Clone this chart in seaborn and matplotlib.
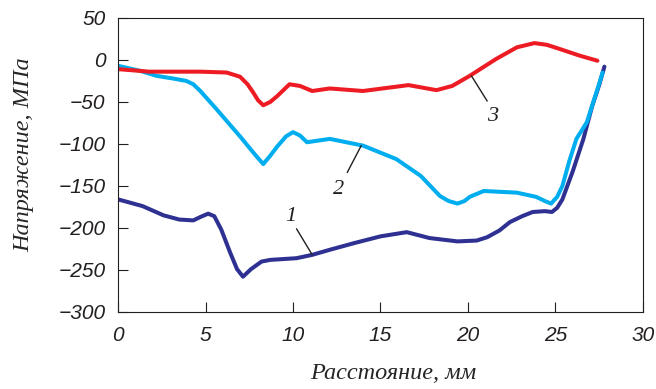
import numpy as np
import pandas as pd
import matplotlib.pyplot as plt
import seaborn as sns

# кривая 1
x1 = [0, 1.4, 2.6, 3.5, 4.3, 4.7, 5.15, 5.5, 5.9, 6.4, 6.8, 7.14, 7.6, 8.2, 8.7, 10.2, 11.1, 12.1, 13.5, 15, 16.5, 17.8, 19.4, 20.5, 21.1, 21.8, 22.4, 23.1, 23.7, 24.4, 24.8, 25.1, 25.4, 26.0, 26.6, 27.1, 27.5, 27.8]
y1 = [-166, -174, -185, -190, -191, -187, -183, -186, -202, -229, -249, -258, -249, -240, -238, -236, -232, -226, -218, -210, -205, -212, -216, -215, -211, -203, -193, -186, -181, -180, -181, -176, -166, -132, -94, -55, -30, -8]
# кривая 2
x2 = [0, 1.26, 2.2, 3.1, 3.9, 4.3, 4.7, 5.6, 6.97, 7.8, 8.3, 8.7, 9.1, 9.6, 10, 10.4, 10.8, 12.1, 14, 15.9, 17.3, 18.4, 18.9, 19.4, 19.8, 20.1, 20.9, 22.8, 23.9, 24.4, 24.75, 25.1, 25.4, 25.8, 26.2, 26.8, 27.4, 27.7]
y2 = [-7, -13, -19, -22, -25, -29, -37, -58, -91, -112, -124, -114, -103, -91, -86, -90, -98, -94, -102, -118, -138, -162, -168, -171, -168, -163, -156, -158, -163, -168, -171, -163, -150, -120, -94, -74, -35, -15]
# кривая 3
x3 = [0, 1.8, 4.7, 6.2, 6.97, 7.4, 7.7, 8.0, 8.3, 8.7, 9.1, 9.8, 10.4, 11.1, 12.1, 14, 16.6, 18.2, 19.1, 20.1, 21.6, 22.8, 23.8, 24.5, 25.1, 26.4, 27.4]
y3 = [-11, -14, -14, -15, -20, -29, -38, -48, -54, -50, -43, -29, -31, -37, -34, -37, -30, -36, -31, -19, 1, 15, 20, 18, 14, 5, -1]

labels = ["1", "2", "3"]
label_pos = [(9.9, -186), (12.6, -154), (21.4, -67)]
leaders = [((10.2, -201), (11.1, -232)), ((13.1, -134), (13.9, -102)), ((21.1, -49), (20.2, -19))]

sns.set_style("ticks")
plt.rcParams['font.family'] = ['Liberation Sans', 'DejaVu Sans']

fig = plt.figure(figsize=(6.56, 3.89), dpi=100)
ax = fig.add_axes([0.180, 0.198, 0.800, 0.756])

for xs, ys, c in [(x1, y1, "#2e3192"), (x2, y2, "#00aeef"), (x3, y3, "#ed1c24")]:
    df = pd.DataFrame({"x": xs, "y": ys})
    sns.lineplot(data=df, x="x", y="y", color=c, lw=2.9, ax=ax, sort=False)

for lab, (tx, ty), ((ax0, ay0), (ax1, ay1)) in zip(labels, label_pos, leaders):
    ax.plot([ax0, ax1], [ay0, ay1], color="#231f20", lw=1)
    ax.text(tx, ty, lab, fontsize=16, fontstyle="italic", family="Liberation Serif",
            ha="center", va="center", color="#231f20")

ax.set_xlim(0, 30)
ax.set_ylim(-300, 50)
ax.set_xticks(range(0, 31, 5))
ax.set_yticks(range(-300, 51, 50))
ax.tick_params(direction="in", length=7, width=0.8, labelsize=15, colors="#231f20")
ax.tick_params(axis="x", pad=10)
ax.tick_params(axis="y", pad=9)
for lab in ax.get_xticklabels() + ax.get_yticklabels():
    lab.set_fontstyle("italic")
for s in ax.spines.values():
    s.set_linewidth(0.8)
    s.set_color("#231f20")

ax.set_xlabel("Расстояние, мм", fontsize=17.5, fontstyle="italic", family="Liberation Serif")
ax.set_ylabel("Напряжение, МПа", fontsize=17.5, fontstyle="italic", family="Liberation Serif")
ax.xaxis.set_label_coords(0.524, -0.172)
ax.yaxis.set_label_coords(-0.16, 0.534)

plt.savefig("out.png", dpi=100)
